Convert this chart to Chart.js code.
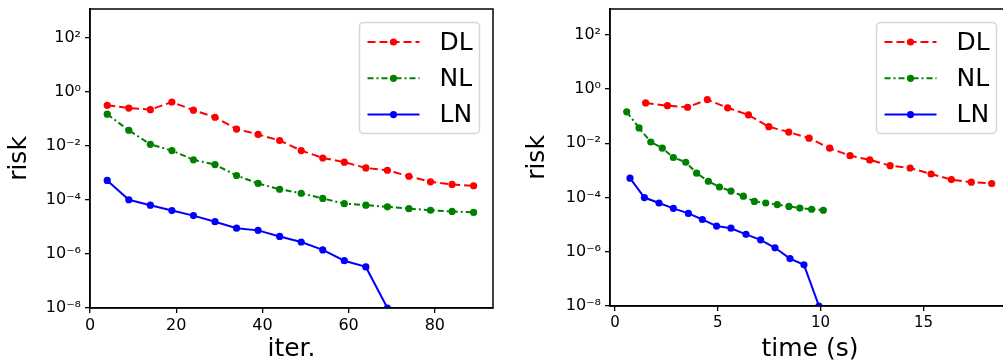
<!DOCTYPE html>
<html>
<head>
<meta charset="utf-8">
<script src="https://cdn.jsdelivr.net/npm/chart.js@4.4.1/dist/chart.umd.min.js"></script>
<style>
  html, body { margin: 0; padding: 0; background: #fff; overflow: hidden; width: 1003px; height: 364px; }
  canvas { position: absolute; top: 0; }
  #left { left: 0; }
  #right { left: 500px; }
</style>
</head>
<body>
<canvas id="left" width="500" height="364"></canvas>
<canvas id="right" width="520" height="364"></canvas>
<script>
// ---- data ----
const seriesNames = ['DL', 'NL', 'LN'];

// iteration index (left panel)
const itersLong = [4, 9, 14, 19, 24, 29, 34, 39, 44, 49, 54, 59, 64, 69, 74, 79, 84, 89];
const itersLN = [4, 9, 14, 19, 24, 29, 34, 39, 44, 49, 54, 59, 64, 69];

// wall-clock time in seconds (right panel)
const timeDL = [1.49, 2.55, 3.53, 4.49, 5.48, 6.49, 7.48, 8.45, 9.44, 10.44, 11.43, 12.39, 13.38, 14.35, 15.37, 16.36, 17.33, 18.32];
const timeNL = [0.57, 1.17, 1.74, 2.30, 2.84, 3.44, 3.97, 4.54, 5.08, 5.64, 6.24, 6.78, 7.33, 7.89, 8.46, 8.99, 9.56, 10.13];
const timeLN = [0.73, 1.43, 2.14, 2.84, 3.57, 4.25, 4.94, 5.64, 6.37, 7.08, 7.78, 8.51, 9.19, 9.92];

// risk
const riskDL = [0.31, 0.245, 0.214, 0.41, 0.204, 0.112, 0.041, 0.026, 0.0155, 0.0066, 0.0035, 0.00245, 0.0015, 0.00123, 0.00074, 0.00046, 0.00037, 0.00033];
const riskNL = [0.145, 0.037, 0.0112, 0.0066, 0.0030, 0.0020, 0.00079, 0.00040, 0.000245, 0.000174, 0.000112, 7.2e-5, 6.3e-5, 5.5e-5, 4.7e-5, 4.1e-5, 3.7e-5, 3.4e-5];
const riskLN = [5.2e-4, 1.0e-4, 6.3e-5, 4.0e-5, 2.6e-5, 1.55e-5, 8.9e-6, 7.4e-6, 4.4e-6, 2.75e-6, 1.4e-6, 5.6e-7, 3.3e-7, 1e-8];

// tick labels
const yTicks = [1e-8, 1e-6, 1e-4, 1e-2, 1, 1e2];
const iterTicks = [0, 20, 40, 60, 80];
const timeTicks = [0, 5, 10, 15];

// ---- helpers ----
const FONT = 'DejaVu Sans';
const SUP = { '-': '\u207B', '0': '\u2070', '1': '\u00B9', '2': '\u00B2', '3': '\u00B3', '4': '\u2074',
              '5': '\u2075', '6': '\u2076', '7': '\u2077', '8': '\u2078', '9': '\u2079' };
const powLabel = v => '10' + String(Math.round(Math.log10(v))).split('').map(c => SUP[c]).join('');
const pts = (xs, ys) => xs.map((x, i) => ({ x: x, y: ys[i] }));

const styles = {
    DL: { color: '#ff0000', dash: [8, 4] },
    NL: { color: '#008000', dash: [6, 3, 2, 3] },
    LN: { color: '#0000ff', dash: [] }
};

function makeDataset(name, data) {
    const s = styles[name];
    return {
        label: name,
        data: data,
        borderColor: s.color,
        backgroundColor: s.color,
        borderDash: s.dash,
        borderWidth: 2,
        pointRadius: 3.6,
        pointBorderWidth: 0,
        pointBackgroundColor: s.color,
        tension: 0,
        fill: false
    };
}

// frame around the plot + matplotlib-style legend in the upper right
const frameAndLegend = {
    id: 'frameAndLegend',
    afterDatasetsDraw(chart) {
        const { ctx, chartArea: a } = chart;
        ctx.save();
        ctx.strokeStyle = '#000';
        ctx.lineWidth = 1.5;
        ctx.strokeRect(a.left, a.top, a.right - a.left, a.bottom - a.top);

        const w = 120, h = 111;
        const bx = a.right - 13.5 - w, by = a.top + 13.5;
        ctx.fillStyle = 'rgba(255,255,255,0.85)';
        ctx.strokeStyle = '#d6d6d6';
        ctx.lineWidth = 1.5;
        ctx.beginPath();
        ctx.roundRect(bx, by, w, h, 4);
        ctx.fill();
        ctx.stroke();

        chart.data.datasets.forEach((ds, i) => {
            const y = by + 19.5 + i * 36.3;
            ctx.strokeStyle = ds.borderColor;
            ctx.lineWidth = ds.borderWidth;
            ctx.setLineDash(ds.borderDash);
            ctx.beginPath();
            ctx.moveTo(bx + 8, y);
            ctx.lineTo(bx + 60, y);
            ctx.stroke();
            ctx.setLineDash([]);
            ctx.fillStyle = ds.borderColor;
            ctx.beginPath();
            ctx.arc(bx + 34, y, ds.pointRadius, 0, Math.PI * 2);
            ctx.fill();
            ctx.fillStyle = '#000';
            ctx.font = '25px "' + FONT + '"';
            ctx.textBaseline = 'middle';
            ctx.fillText(ds.label, bx + 80, y + 1);
        });
        ctx.restore();
    }
};

function makeChart(id, cfg) {
    const axisGrid = { drawOnChartArea: false, tickLength: 5, color: '#000', lineWidth: 1.3 };
    const axisBorder = { color: '#000', width: 1.5 };
    new Chart(document.getElementById(id).getContext('2d'), {
        type: 'line',
        data: { datasets: cfg.datasets },
        options: {
            responsive: false,
            animation: false,
            devicePixelRatio: 1,
            layout: { padding: { left: 0, right: cfg.padRight, top: 9, bottom: 0 } },
            plugins: { legend: { display: false }, tooltip: { enabled: false } },
            scales: {
                x: {
                    type: 'linear',
                    min: cfg.xMin,
                    max: cfg.xMax,
                    afterBuildTicks: s => { s.ticks = cfg.xTicks.map(v => ({ value: v })); },
                    afterFit: s => { s.height = cfg.xHeight; s.paddingLeft = 0; s.paddingRight = 0; },
                    ticks: { font: { family: FONT, size: cfg.tickSize }, color: '#000', padding: 3, maxRotation: 0, autoSkip: false },
                    grid: axisGrid,
                    border: axisBorder,
                    title: { display: true, text: cfg.xTitle, color: '#000', font: { family: FONT, size: 25 }, padding: { top: 0, bottom: 0 } }
                },
                y: {
                    type: 'logarithmic',
                    min: 1e-8,
                    max: cfg.yMax,
                    afterBuildTicks: s => { s.ticks = yTicks.map(v => ({ value: v })); },
                    afterFit: s => { s.width = cfg.yWidth; s.paddingTop = 0; s.paddingBottom = 0; },
                    ticks: { callback: v => powLabel(v), font: { family: FONT, size: 16 }, color: '#000', padding: 4, autoSkip: false },
                    grid: axisGrid,
                    border: axisBorder,
                    title: { display: true, text: 'risk', color: '#000', font: { family: FONT, size: 25 }, padding: { top: cfg.yTitlePad, bottom: 4 } }
                }
            }
        },
        plugins: [frameAndLegend]
    });
}

// ======= left: risk vs iterations =======
makeChart('left', {
    datasets: [
        makeDataset('DL', pts(itersLong, riskDL)),
        makeDataset('NL', pts(itersLong, riskNL)),
        makeDataset('LN', pts(itersLN, riskLN))
    ],
    xMin: 0, xMax: 93.5, xTicks: iterTicks, xTitle: 'iter.',
    yMax: 1122, yWidth: 90, xHeight: 56, padRight: 7, yTitlePad: 4, tickSize: 16
});

// ======= right: risk vs time =======
makeChart('right', {
    datasets: [
        makeDataset('DL', pts(timeDL, riskDL)),
        makeDataset('NL', pts(timeNL, riskNL)),
        makeDataset('LN', pts(timeLN, riskLN))
    ],
    xMin: -0.243, xMax: 19.21, xTicks: timeTicks, xTitle: 'time (s)',
    yMax: 900, yWidth: 110, xHeight: 58, padRight: 10, yTitlePad: 22, tickSize: 15
});
</script>
</body>
</html>
